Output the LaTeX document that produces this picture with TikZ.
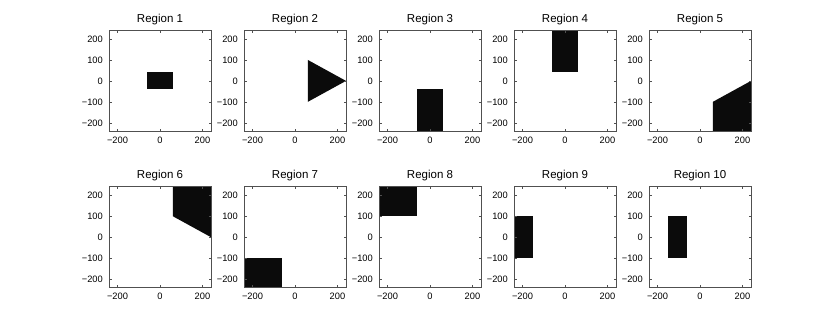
\documentclass[tikz,border=0pt]{standalone}
\usepackage{fontspec}
\setmainfont{Liberation Sans}
\definecolor{axisgray}{HTML}{505050}
\definecolor{shapeblack}{HTML}{0B0B0B}
\tikzset{
  axisframe/.style={draw=axisgray, line width=0.8pt},
  tickmark/.style={draw=axisgray, line width=0.5pt},
  regionfill/.style={fill=shapeblack, draw=none},
  ticklabel/.style={font=\fontsize{9.3}{11}\selectfont, inner sep=0pt},
  paneltitle/.style={font=\fontsize{11.5}{13}\selectfont, inner sep=0pt},
}
% tick text with a real minus sign
\newcommand{\ticktext}[1]{\ifnum#1<0 −\the\numexpr-#1\relax\else#1\fi}
% one panel: #1 name, #2 x-centre, #3 y-centre, #4 title, #5 filled path
\newcommand{\regionpanel}[5]{%
  \begin{scope}[shift={(#2pt,#3pt)}, x=0.2125pt, y=0.21pt]
    \fill[regionfill] #5;
    \draw[axisframe] (-240,-240) rectangle (240,240);
    \foreach \xt [count=\i] in {-200,0,200} {
      \draw[tickmark] (\xt,-240) -- ++(0,2.5pt);
      \draw[tickmark] (\xt,240) -- ++(0,-2.5pt);
      \node[ticklabel, anchor=north] (#1-x\i) at ([yshift=-5.3pt]\xt,-240) {\ticktext{\xt}};
    }
    \foreach \yt [count=\i] in {-200,-100,0,100,200} {
      \draw[tickmark] (-240,\yt) -- ++(2.5pt,0);
      \draw[tickmark] (240,\yt) -- ++(-2.5pt,0);
      \node[ticklabel, anchor=east] (#1-y\i) at ([xshift=-6pt]-240,\yt) {\ticktext{\yt}};
    }
    \node[paneltitle, anchor=base] (#1-title) at ([yshift=8pt]0,240) {#4};
  \end{scope}}

\begin{document}
\begin{tikzpicture}[x=1pt, y=1pt]
  \useasboundingbox (0,0) rectangle (830,331);
  % top row
  \regionpanel{r1}{160}{250.1}{Region 1}{(-60,-40) rectangle (60,40)}
  \regionpanel{r2}{295}{250.1}{Region 2}{(60,100) -- (60,-100) -- (240,0) -- cycle}
  \regionpanel{r3}{430}{250.1}{Region 3}{(-60,-240) rectangle (60,-40)}
  \regionpanel{r4}{565}{250.1}{Region 4}{(-60,40) rectangle (60,240)}
  \regionpanel{r5}{700}{250.1}{Region 5}{(60,-240) -- (60,-100) -- (240,0) -- (240,-240) -- cycle}
  % bottom row
  \regionpanel{r6}{160}{93.8}{Region 6}{(60,240) -- (60,100) -- (240,0) -- (240,240) -- cycle}
  \regionpanel{r7}{295}{93.8}{Region 7}{(-240,-240) rectangle (-60,-100)}
  \regionpanel{r8}{430}{93.8}{Region 8}{(-240,100) rectangle (-60,240)}
  \regionpanel{r9}{565}{93.8}{Region 9}{(-240,-100) rectangle (-150,100)}
  \regionpanel{r10}{700}{93.8}{Region 10}{(-150,-100) rectangle (-60,100)}
\end{tikzpicture}
\end{document}
